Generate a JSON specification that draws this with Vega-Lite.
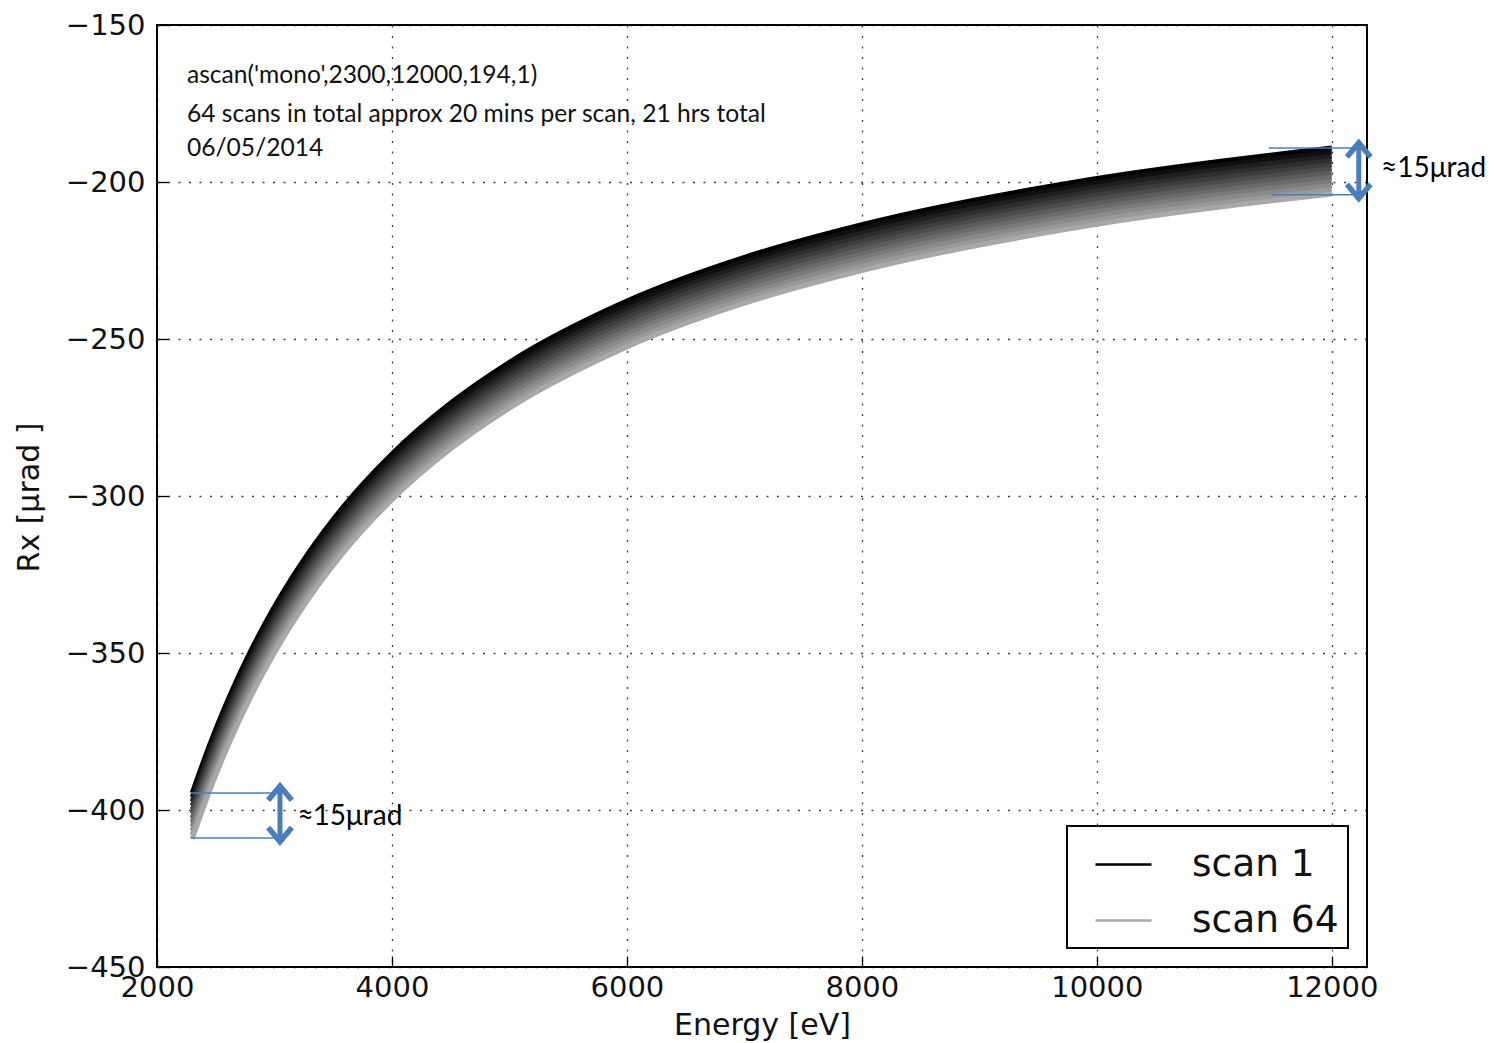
{
  "$schema": "https://vega.github.io/schema/vega-lite/v6.json",
  "autosize": {"type": "none"},
  "padding": {"left": 157, "top": 25, "right": 128, "bottom": 76},
  "width": 1210,
  "height": 942,
  "background": "white",
  "config": {
    "view": {"stroke": "black", "strokeWidth": 2},
    "axis": {
      "grid": true, "gridColor": "black", "gridDash": [2, 8.5], "gridWidth": 1.3, "gridOpacity": 0.75,
      "domain": false, "labelFlush": false,
      "labelFont": "DejaVu Sans", "labelFontSize": 29, "labelColor": "#111111",
      "titleFont": "DejaVu Sans", "titleFontSize": 30, "titleFontWeight": "normal", "titleColor": "#111111",
      "tickColor": "black", "tickSize": -11, "tickWidth": 1.3,
      "zindex": 1
    }
  },
  "datasets": {
    "scans": [
      {"scan":"scan 1","E":2300,"Rx":-394.6},{"scan":"scan 1","E":2450,"Rx":-379.1},{"scan":"scan 1","E":2600,"Rx":-365.3},{"scan":"scan 1","E":2800,"Rx":-349.2},{"scan":"scan 1","E":3000,"Rx":-335.3},{"scan":"scan 1","E":3300,"Rx":-317.6},{"scan":"scan 1","E":3600,"Rx":-302.8},{"scan":"scan 1","E":4000,"Rx":-286.6},{"scan":"scan 1","E":4500,"Rx":-270.4},{"scan":"scan 1","E":5000,"Rx":-257.4},{"scan":"scan 1","E":6000,"Rx":-237.9},{"scan":"scan 1","E":7000,"Rx":-224.0},{"scan":"scan 1","E":8000,"Rx":-213.6},{"scan":"scan 1","E":10000,"Rx":-198.9},{"scan":"scan 1","E":12000,"Rx":-189.2},
      {"scan":"scan 7","E":2300,"Rx":-395.9},{"scan":"scan 7","E":2450,"Rx":-380.4},{"scan":"scan 7","E":2600,"Rx":-366.6},{"scan":"scan 7","E":2800,"Rx":-350.5},{"scan":"scan 7","E":3000,"Rx":-336.6},{"scan":"scan 7","E":3300,"Rx":-318.9},{"scan":"scan 7","E":3600,"Rx":-304.1},{"scan":"scan 7","E":4000,"Rx":-287.9},{"scan":"scan 7","E":4500,"Rx":-271.7},{"scan":"scan 7","E":5000,"Rx":-258.7},{"scan":"scan 7","E":6000,"Rx":-239.2},{"scan":"scan 7","E":7000,"Rx":-225.3},{"scan":"scan 7","E":8000,"Rx":-214.9},{"scan":"scan 7","E":10000,"Rx":-200.2},{"scan":"scan 7","E":12000,"Rx":-190.5},
      {"scan":"scan 12","E":2300,"Rx":-397.3},{"scan":"scan 12","E":2450,"Rx":-381.8},{"scan":"scan 12","E":2600,"Rx":-368.0},{"scan":"scan 12","E":2800,"Rx":-351.9},{"scan":"scan 12","E":3000,"Rx":-338.0},{"scan":"scan 12","E":3300,"Rx":-320.3},{"scan":"scan 12","E":3600,"Rx":-305.5},{"scan":"scan 12","E":4000,"Rx":-289.3},{"scan":"scan 12","E":4500,"Rx":-273.1},{"scan":"scan 12","E":5000,"Rx":-260.1},{"scan":"scan 12","E":6000,"Rx":-240.6},{"scan":"scan 12","E":7000,"Rx":-226.7},{"scan":"scan 12","E":8000,"Rx":-216.3},{"scan":"scan 12","E":10000,"Rx":-201.6},{"scan":"scan 12","E":12000,"Rx":-191.9},
      {"scan":"scan 18","E":2300,"Rx":-398.6},{"scan":"scan 18","E":2450,"Rx":-383.1},{"scan":"scan 18","E":2600,"Rx":-369.3},{"scan":"scan 18","E":2800,"Rx":-353.2},{"scan":"scan 18","E":3000,"Rx":-339.3},{"scan":"scan 18","E":3300,"Rx":-321.6},{"scan":"scan 18","E":3600,"Rx":-306.8},{"scan":"scan 18","E":4000,"Rx":-290.6},{"scan":"scan 18","E":4500,"Rx":-274.4},{"scan":"scan 18","E":5000,"Rx":-261.4},{"scan":"scan 18","E":6000,"Rx":-241.9},{"scan":"scan 18","E":7000,"Rx":-228.0},{"scan":"scan 18","E":8000,"Rx":-217.6},{"scan":"scan 18","E":10000,"Rx":-202.9},{"scan":"scan 18","E":12000,"Rx":-193.2},
      {"scan":"scan 24","E":2300,"Rx":-399.9},{"scan":"scan 24","E":2450,"Rx":-384.4},{"scan":"scan 24","E":2600,"Rx":-370.6},{"scan":"scan 24","E":2800,"Rx":-354.5},{"scan":"scan 24","E":3000,"Rx":-340.6},{"scan":"scan 24","E":3300,"Rx":-322.9},{"scan":"scan 24","E":3600,"Rx":-308.1},{"scan":"scan 24","E":4000,"Rx":-291.9},{"scan":"scan 24","E":4500,"Rx":-275.7},{"scan":"scan 24","E":5000,"Rx":-262.7},{"scan":"scan 24","E":6000,"Rx":-243.2},{"scan":"scan 24","E":7000,"Rx":-229.3},{"scan":"scan 24","E":8000,"Rx":-218.9},{"scan":"scan 24","E":10000,"Rx":-204.2},{"scan":"scan 24","E":12000,"Rx":-194.5},
      {"scan":"scan 30","E":2300,"Rx":-401.2},{"scan":"scan 30","E":2450,"Rx":-385.7},{"scan":"scan 30","E":2600,"Rx":-371.9},{"scan":"scan 30","E":2800,"Rx":-355.8},{"scan":"scan 30","E":3000,"Rx":-341.9},{"scan":"scan 30","E":3300,"Rx":-324.2},{"scan":"scan 30","E":3600,"Rx":-309.4},{"scan":"scan 30","E":4000,"Rx":-293.2},{"scan":"scan 30","E":4500,"Rx":-277.0},{"scan":"scan 30","E":5000,"Rx":-264.0},{"scan":"scan 30","E":6000,"Rx":-244.5},{"scan":"scan 30","E":7000,"Rx":-230.6},{"scan":"scan 30","E":8000,"Rx":-220.2},{"scan":"scan 30","E":10000,"Rx":-205.5},{"scan":"scan 30","E":12000,"Rx":-195.8},
      {"scan":"scan 35","E":2300,"Rx":-402.6},{"scan":"scan 35","E":2450,"Rx":-387.1},{"scan":"scan 35","E":2600,"Rx":-373.3},{"scan":"scan 35","E":2800,"Rx":-357.2},{"scan":"scan 35","E":3000,"Rx":-343.3},{"scan":"scan 35","E":3300,"Rx":-325.6},{"scan":"scan 35","E":3600,"Rx":-310.8},{"scan":"scan 35","E":4000,"Rx":-294.6},{"scan":"scan 35","E":4500,"Rx":-278.4},{"scan":"scan 35","E":5000,"Rx":-265.4},{"scan":"scan 35","E":6000,"Rx":-245.9},{"scan":"scan 35","E":7000,"Rx":-232.0},{"scan":"scan 35","E":8000,"Rx":-221.6},{"scan":"scan 35","E":10000,"Rx":-206.9},{"scan":"scan 35","E":12000,"Rx":-197.2},
      {"scan":"scan 41","E":2300,"Rx":-403.9},{"scan":"scan 41","E":2450,"Rx":-388.4},{"scan":"scan 41","E":2600,"Rx":-374.6},{"scan":"scan 41","E":2800,"Rx":-358.5},{"scan":"scan 41","E":3000,"Rx":-344.6},{"scan":"scan 41","E":3300,"Rx":-326.9},{"scan":"scan 41","E":3600,"Rx":-312.1},{"scan":"scan 41","E":4000,"Rx":-295.9},{"scan":"scan 41","E":4500,"Rx":-279.7},{"scan":"scan 41","E":5000,"Rx":-266.7},{"scan":"scan 41","E":6000,"Rx":-247.2},{"scan":"scan 41","E":7000,"Rx":-233.3},{"scan":"scan 41","E":8000,"Rx":-222.9},{"scan":"scan 41","E":10000,"Rx":-208.2},{"scan":"scan 41","E":12000,"Rx":-198.5},
      {"scan":"scan 47","E":2300,"Rx":-405.2},{"scan":"scan 47","E":2450,"Rx":-389.7},{"scan":"scan 47","E":2600,"Rx":-375.9},{"scan":"scan 47","E":2800,"Rx":-359.8},{"scan":"scan 47","E":3000,"Rx":-345.9},{"scan":"scan 47","E":3300,"Rx":-328.2},{"scan":"scan 47","E":3600,"Rx":-313.4},{"scan":"scan 47","E":4000,"Rx":-297.2},{"scan":"scan 47","E":4500,"Rx":-281.0},{"scan":"scan 47","E":5000,"Rx":-268.0},{"scan":"scan 47","E":6000,"Rx":-248.5},{"scan":"scan 47","E":7000,"Rx":-234.6},{"scan":"scan 47","E":8000,"Rx":-224.2},{"scan":"scan 47","E":10000,"Rx":-209.5},{"scan":"scan 47","E":12000,"Rx":-199.8},
      {"scan":"scan 53","E":2300,"Rx":-406.5},{"scan":"scan 53","E":2450,"Rx":-391.0},{"scan":"scan 53","E":2600,"Rx":-377.2},{"scan":"scan 53","E":2800,"Rx":-361.1},{"scan":"scan 53","E":3000,"Rx":-347.2},{"scan":"scan 53","E":3300,"Rx":-329.5},{"scan":"scan 53","E":3600,"Rx":-314.7},{"scan":"scan 53","E":4000,"Rx":-298.5},{"scan":"scan 53","E":4500,"Rx":-282.3},{"scan":"scan 53","E":5000,"Rx":-269.3},{"scan":"scan 53","E":6000,"Rx":-249.8},{"scan":"scan 53","E":7000,"Rx":-235.9},{"scan":"scan 53","E":8000,"Rx":-225.5},{"scan":"scan 53","E":10000,"Rx":-210.8},{"scan":"scan 53","E":12000,"Rx":-201.1},
      {"scan":"scan 58","E":2300,"Rx":-407.9},{"scan":"scan 58","E":2450,"Rx":-392.4},{"scan":"scan 58","E":2600,"Rx":-378.6},{"scan":"scan 58","E":2800,"Rx":-362.5},{"scan":"scan 58","E":3000,"Rx":-348.6},{"scan":"scan 58","E":3300,"Rx":-330.9},{"scan":"scan 58","E":3600,"Rx":-316.1},{"scan":"scan 58","E":4000,"Rx":-299.9},{"scan":"scan 58","E":4500,"Rx":-283.7},{"scan":"scan 58","E":5000,"Rx":-270.7},{"scan":"scan 58","E":6000,"Rx":-251.2},{"scan":"scan 58","E":7000,"Rx":-237.3},{"scan":"scan 58","E":8000,"Rx":-226.9},{"scan":"scan 58","E":10000,"Rx":-212.2},{"scan":"scan 58","E":12000,"Rx":-202.5},
      {"scan":"scan 64","E":2300,"Rx":-409.2},{"scan":"scan 64","E":2450,"Rx":-393.7},{"scan":"scan 64","E":2600,"Rx":-379.9},{"scan":"scan 64","E":2800,"Rx":-363.8},{"scan":"scan 64","E":3000,"Rx":-349.9},{"scan":"scan 64","E":3300,"Rx":-332.2},{"scan":"scan 64","E":3600,"Rx":-317.4},{"scan":"scan 64","E":4000,"Rx":-301.2},{"scan":"scan 64","E":4500,"Rx":-285.0},{"scan":"scan 64","E":5000,"Rx":-272.0},{"scan":"scan 64","E":6000,"Rx":-252.5},{"scan":"scan 64","E":7000,"Rx":-238.6},{"scan":"scan 64","E":8000,"Rx":-228.2},{"scan":"scan 64","E":10000,"Rx":-213.5},{"scan":"scan 64","E":12000,"Rx":-203.8}
    ],
    "notes": [
      {"E": 2255, "Rx": -168.6, "t": "ascan('mono',2300,12000,194,1)"},
      {"E": 2255, "Rx": -180.9, "t": "64 scans in total approx 20 mins per scan, 21 hrs total"},
      {"E": 2255, "Rx": -191.6, "t": "06/05/2014"}
    ],
    "spans": [
      {"E": 12420, "Rx": -198.3, "t": "≈15μrad"},
      {"E": 3195, "Rx": -404.8, "t": "≈15μrad"}
    ],
    "hlines": [
      {"E": 11464, "E2": 12213, "Rx": -189.2},
      {"E": 11487, "E2": 12213, "Rx": -204.1},
      {"E": 2289, "E2": 3047, "Rx": -394.6},
      {"E": 2289, "E2": 3047, "Rx": -408.9}
    ],
    "shafts": [
      {"E": 12230, "R1": -188.0, "R2": -204.8},
      {"E": 3047, "R1": -392.8, "R2": -409.6}
    ],
    "heads": [
      {"E": 12230, "Rx": -189.8, "dir": "up"},
      {"E": 12230, "Rx": -203.0, "dir": "down"},
      {"E": 3047, "Rx": -394.6, "dir": "up"},
      {"E": 3047, "Rx": -407.8, "dir": "down"}
    ]
  },
  "layer": [
    {
      "data": {"name": "scans"},
      "mark": {"type": "line", "strokeWidth": 5, "interpolate": "monotone"},
      "encoding": {
        "x": {"field": "E", "type": "quantitative",
              "scale": {"domain": [2000, 12300], "nice": false, "zero": false},
              "axis": {"title": "Energy [eV]", "values": [2000, 4000, 6000, 8000, 10000, 12000], "format": "d",
                       "labelPadding": 17, "titleY": 58, "titleBaseline": "middle"}},
        "y": {"field": "Rx", "type": "quantitative",
              "scale": {"domain": [-450, -150], "nice": false, "zero": false},
              "axis": {"title": "Rx [μrad ]", "values": [-450, -400, -350, -300, -250, -200, -150], "format": "d",
                       "labelExpr": "replace(datum.label, '-', '−')",
                       "labelPadding": 23, "titleX": -128, "titleY": 472, "titleAlign": "center", "titleBaseline": "middle"}},
        "color": {"field": "scan", "type": "nominal",
                  "scale": {"domain": ["scan 1","scan 7","scan 12","scan 18","scan 24","scan 30","scan 35","scan 41","scan 47","scan 53","scan 58","scan 64"],
                            "range": ["#000000","#0f0f0f","#1f1f1f","#2e2e2e","#3d3d3d","#4c4c4c","#5c5c5c","#6b6b6b","#7a7a7a","#8a8a8a","#999999","#a8a8a8"]},
                  "legend": {"title": null, "values": ["scan 1", "scan 64"], "orient": "bottom-right", "offset": 19,
                             "symbolType": "stroke", "symbolSize": 3136, "symbolStrokeWidth": 2.5, "symbolOffset": 18,
                             "labelFont": "DejaVu Sans", "labelFontSize": 37.5, "labelColor": "#111111", "labelOffset": 39,
                             "rowPadding": 8, "padding": 9, "strokeColor": "black", "fillColor": "white",
                             "encode": {"legend": {"update": {"strokeWidth": {"value": 2}}}}}}
      }
    },
    {
      "data": {"name": "notes"},
      "mark": {"type": "text", "align": "left", "baseline": "alphabetic", "font": "Lato", "fontSize": 24.6, "color": "#111111"},
      "encoding": {
        "x": {"field": "E", "type": "quantitative"},
        "y": {"field": "Rx", "type": "quantitative"},
        "text": {"field": "t"}
      }
    },
    {
      "data": {"name": "hlines"},
      "mark": {"type": "rule", "color": "#4a7ebb", "strokeWidth": 1.5},
      "encoding": {
        "x": {"field": "E", "type": "quantitative"},
        "x2": {"field": "E2"},
        "y": {"field": "Rx", "type": "quantitative"}
      }
    },
    {
      "data": {"name": "shafts"},
      "mark": {"type": "rule", "color": "#4a7ebb", "strokeWidth": 5},
      "encoding": {
        "x": {"field": "E", "type": "quantitative"},
        "y": {"field": "R1", "type": "quantitative"},
        "y2": {"field": "R2"}
      }
    },
    {
      "data": {"name": "heads"},
      "mark": {"type": "point", "filled": false, "stroke": "#4a7ebb", "strokeWidth": 5.5, "opacity": 1, "strokeJoin": "miter"},
      "encoding": {
        "x": {"field": "E", "type": "quantitative"},
        "y": {"field": "Rx", "type": "quantitative"},
        "shape": {"field": "dir", "type": "nominal",
                  "scale": {"domain": ["up", "down"], "range": ["M-1,0.6L0,-0.6L1,0.6", "M-1,-0.6L0,0.6L1,-0.6"]},
                  "legend": null},
        "size": {"value": 560}
      }
    },
    {
      "data": {"name": "spans"},
      "mark": {"type": "text", "align": "left", "baseline": "alphabetic", "font": "Lato", "fontSize": 28, "color": "#000000"},
      "encoding": {
        "x": {"field": "E", "type": "quantitative"},
        "y": {"field": "Rx", "type": "quantitative"},
        "text": {"field": "t"}
      }
    }
  ]
}
